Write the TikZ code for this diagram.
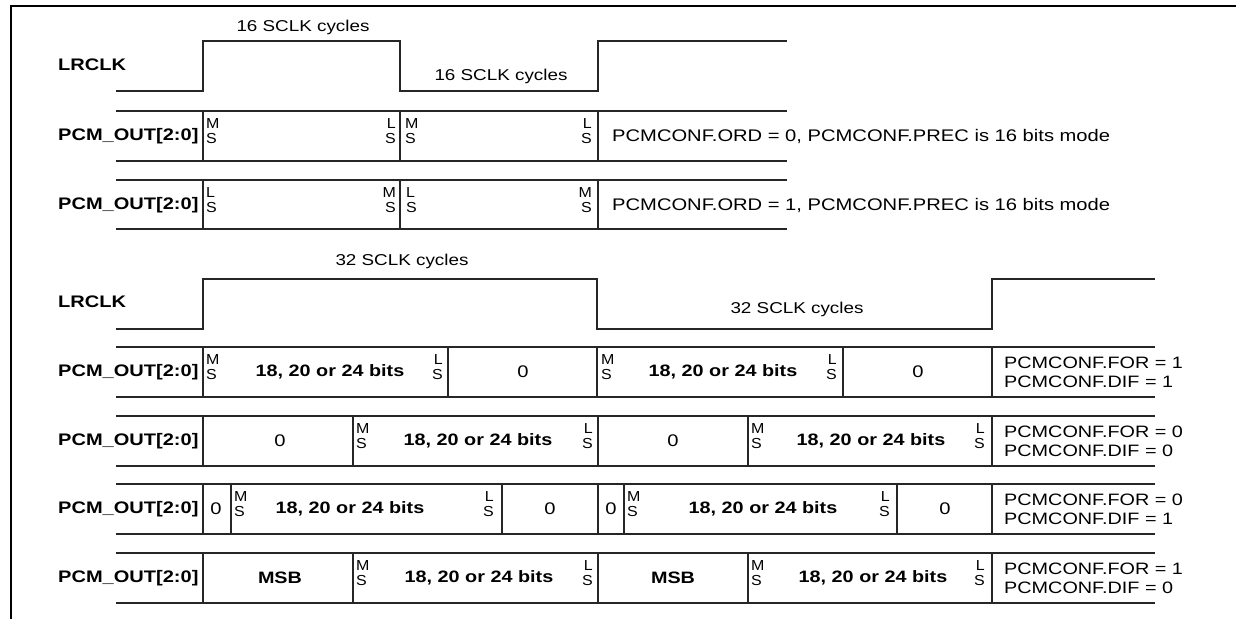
\documentclass[tikz,border=0pt]{standalone}
\usepackage{fontspec}
\setmainfont{Liberation Sans}[FakeStretch=1.2]
\newfontfamily\msfont{Liberation Sans}[FakeStretch=1.1]
\newcommand\stkL[5]{\node[msl] (#1t) at (#2,#3-7.5) {#4}; \node[msl] (#1b) at (#2,#3+7.5) {#5};}
\newcommand\stkR[5]{\node[msr] (#1t) at (#2,#3-7.5) {#4}; \node[msr] (#1b) at (#2,#3+7.5) {#5};}
\begin{document}
\begin{tikzpicture}[x=1pt,y=-1pt,
  sig/.style={draw=black!85, line width=1.2pt},
  lbl/.style={font=\fontsize{16.7}{18}\selectfont\bfseries, anchor=west, inner sep=0},
  msl/.style={font=\msfont\fontsize{14.5}{15}\selectfont, inner sep=0, anchor=base west},
  msr/.style={font=\msfont\fontsize{14.5}{15}\selectfont, inner sep=0, anchor=base east},
  bits/.style={font=\fontsize{16.5}{18}\selectfont\bfseries, inner sep=0},
  txt/.style={font=\fontsize{16.8}{18}\selectfont, inner sep=0},
  cyc/.style={font=\fontsize{15.7}{18}\selectfont, inner sep=0},
  cfg/.style={font=\fontsize{16.5}{19}\selectfont, inner sep=0, align=left, anchor=west}]
\useasboundingbox (0,0) rectangle (1236,619);
% frame
\draw[line width=2pt] (11,619) -- (11,5.5) -- (1236,5.5);

% ---------- 16-bit LRCLK
\node[lbl] (l1) at (58,65) {LRCLK};
\draw[sig] (116,91) -- (203,91) -- (203,41) -- (400,41) -- (400,91) -- (598,91) -- (598,41) -- (787,41);
\node[cyc] (c1) at (303,27) {16 SCLK cycles};
\node[cyc] (c2) at (501,76) {16 SCLK cycles};

% row 1
\draw[sig] (116,111) -- (787,111) (116,161) -- (787,161);
\foreach \x in {203,400,598} \draw[sig] (\x,111) -- (\x,161);
\node[lbl] (p1) at (58,136) {PCM\_OUT[2:0]};
\stkL{r1a}{206}{136}{M}{S}
\stkR{r1b}{396}{136}{L}{S}
\stkL{r1c}{405}{136}{M}{S}
\stkR{r1d}{592}{136}{L}{S}
\node[txt,anchor=west] (r1t) at (612,136) {PCMCONF.ORD = 0, PCMCONF.PREC is 16 bits mode};

% row 2
\draw[sig] (116,180) -- (787,180) (116,229) -- (787,229);
\foreach \x in {203,400,598} \draw[sig] (\x,180) -- (\x,229);
\node[lbl] (p2) at (58,205) {PCM\_OUT[2:0]};
\stkL{r2a}{206}{205}{L}{S}
\stkR{r2b}{396}{205}{M}{S}
\stkL{r2c}{406}{205}{L}{S}
\stkR{r2d}{592}{205}{M}{S}
\node[txt,anchor=west] (r2t) at (612,205) {PCMCONF.ORD = 1, PCMCONF.PREC is 16 bits mode};

% ---------- 32-bit LRCLK
\node[lbl] (l2) at (58,302) {LRCLK};
\draw[sig] (116,329) -- (203,329) -- (203,279) -- (597,279) -- (597,329) -- (992,329) -- (992,279) -- (1155,279);
\node[cyc] (c3) at (402,261) {32 SCLK cycles};
\node[cyc] (c4) at (797,309) {32 SCLK cycles};

% row 3
\draw[sig] (116,347) -- (1155,347) (116,397) -- (1155,397);
\foreach \x in {203,448,597,843,992} \draw[sig] (\x,347) -- (\x,397);
\node[lbl] (p3) at (58,372) {PCM\_OUT[2:0]};
\stkL{r3a}{206}{372}{M}{S}
\node[bits] (r3b) at (330,372) {18, 20 or 24 bits};
\stkR{r3c}{443}{372}{L}{S}
\node[txt] (r3d) at (523,372) {0};
\stkL{r3e}{601}{372}{M}{S}
\node[bits] (r3f) at (723,372) {18, 20 or 24 bits};
\stkR{r3g}{837}{372}{L}{S}
\node[txt] (r3h) at (918,372) {0};
\node[cfg] (r3t) at (1004,372) {PCMCONF.FOR = 1\\PCMCONF.DIF = 1};

% row 4
\draw[sig] (116,416) -- (1155,416) (116,466) -- (1155,466);
\foreach \x in {203,353,598,748,992} \draw[sig] (\x,416) -- (\x,466);
\node[lbl] (p4) at (58,441) {PCM\_OUT[2:0]};
\node[txt] (r4a) at (280,441) {0};
\stkL{r4b}{356}{441}{M}{S}
\node[bits] (r4c) at (478,441) {18, 20 or 24 bits};
\stkR{r4d}{593}{441}{L}{S}
\node[txt] (r4e) at (673,441) {0};
\stkL{r4f}{751}{441}{M}{S}
\node[bits] (r4g) at (871,441) {18, 20 or 24 bits};
\stkR{r4h}{985}{441}{L}{S}
\node[cfg] (r4t) at (1004,441) {PCMCONF.FOR = 0\\PCMCONF.DIF = 0};

% row 5
\draw[sig] (116,484) -- (1155,484) (116,534) -- (1155,534);
\foreach \x in {203,231,502,598,624,897,992} \draw[sig] (\x,484) -- (\x,534);
\node[lbl] (p5) at (58,509) {PCM\_OUT[2:0]};
\node[txt] (r5a) at (216,509) {0};
\stkL{r5b}{234}{509}{M}{S}
\node[bits] (r5c) at (350,509) {18, 20 or 24 bits};
\stkR{r5d}{494}{509}{L}{S}
\node[txt] (r5e) at (550,509) {0};
\node[txt] (r5f) at (611,509) {0};
\stkL{r5g}{627}{509}{M}{S}
\node[bits] (r5h) at (763,509) {18, 20 or 24 bits};
\stkR{r5i}{890}{509}{L}{S}
\node[txt] (r5j) at (945,509) {0};
\node[cfg] (r5t) at (1004,509) {PCMCONF.FOR = 0\\PCMCONF.DIF = 1};

% row 6
\draw[sig] (116,553) -- (1155,553) (116,603) -- (1155,603);
\foreach \x in {203,353,598,748,992} \draw[sig] (\x,553) -- (\x,603);
\node[lbl] (p6) at (58,578) {PCM\_OUT[2:0]};
\node[bits] (r6a) at (280,578) {MSB};
\stkL{r6b}{356}{578}{M}{S}
\node[bits] (r6c) at (479,578) {18, 20 or 24 bits};
\stkR{r6d}{593}{578}{L}{S}
\node[bits] (r6e) at (673,578) {MSB};
\stkL{r6f}{751}{578}{M}{S}
\node[bits] (r6g) at (873,578) {18, 20 or 24 bits};
\stkR{r6h}{985}{578}{L}{S}
\node[cfg] (r6t) at (1004,578) {PCMCONF.FOR = 1\\PCMCONF.DIF = 0};
\end{tikzpicture}
\end{document}
